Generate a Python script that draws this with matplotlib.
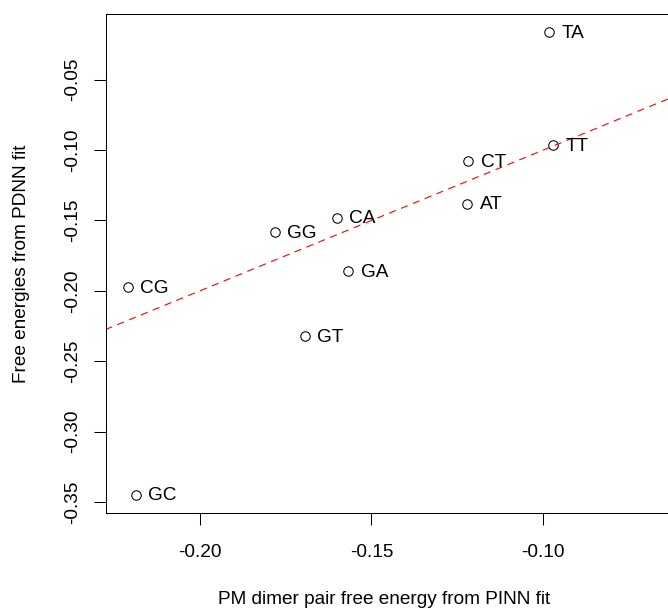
import numpy as np
import matplotlib
matplotlib.use('Agg')
import matplotlib.pyplot as plt

plt.rcParams['font.family'] = ['Liberation Sans', 'DejaVu Sans']

# dimer pair free energies, PINN fit (x) vs PDNN fit (y)
dimers = ['TA', 'TT', 'CT', 'AT', 'CG', 'GG', 'CA', 'GA', 'GT', 'GC']
pinn = [-0.0983, -0.0971, -0.1218, -0.1221, -0.2210, -0.1781, -0.1601, -0.1567, -0.1694, -0.2186]
pdnn = [-0.0164, -0.0966, -0.1078, -0.1381, -0.1972, -0.1581, -0.1481, -0.1860, -0.2320, -0.3447]

xticks = [-0.20, -0.15, -0.10]
yticks = [-0.35, -0.30, -0.25, -0.20, -0.15, -0.10, -0.05]

W, H = 668, 609
fig = plt.figure(figsize=(W / 100, H / 100), dpi=100)
# axes box in pixels: left 106, right just past the edge, top 14, bottom 513
ax = fig.add_axes([106 / W, (H - 513) / H, (670 - 106) / W, (513 - 14) / H])

FS = 13.7

ax.plot(pinn, pdnn, 'o', mfc='none', mec='black', ms=6.8, mew=0.75)
for name, x, y in zip(dimers, pinn, pdnn):
    ax.annotate(name, (x, y), xytext=(8.9, 0.6), textcoords='offset points',
                ha='left', va='center_baseline', fontsize=FS)

# y = x reference line
line_x = np.array([-0.3, 0.0])
ax.plot(line_x, line_x, color='red', lw=0.8, ls=(0, (6.5, 5)))

ax.set_xlim(-0.2273, -0.2273 + 564 / 3434)
ax.set_ylim(-0.3578, -0.0033)
ax.set_xticks(xticks)
ax.set_yticks(yticks)
ax.set_xticklabels(['%.2f' % t for t in xticks])
ax.set_yticklabels(['%.2f' % t for t in yticks], rotation=90, va='center')
ax.tick_params(direction='out', length=8.6, width=0.75, labelsize=FS)
ax.tick_params(axis='x', pad=14)
ax.tick_params(axis='y', pad=9)
for s in ax.spines.values():
    s.set_linewidth(0.75)

fig.text(384 / W, (H - 604.5) / H, 'PM dimer pair free energy from PINN fit',
         fontsize=FS, ha='center', va='baseline')
fig.text(26 / W, (H - 263.5) / H, 'Free energies from PDNN fit',
         fontsize=FS, rotation=90, rotation_mode='anchor', ha='center', va='baseline')

fig.savefig('out.png', dpi=100)
